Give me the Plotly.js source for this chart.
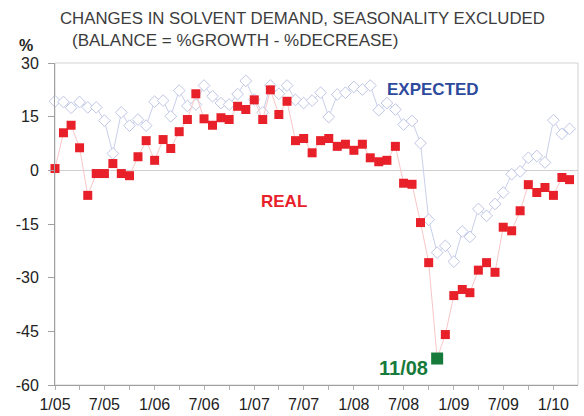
<!DOCTYPE html>
<html>
<head>
<meta charset="utf-8">
<script src="https://cdn.plot.ly/plotly-3.0.1.min.js"></script>
<style>html,body{margin:0;padding:0;background:#fff;}#chart{width:584px;height:416px;}</style>
</head>
<body>
<div id="chart"></div>
<script>
const months = [
 '2005-01','2005-02','2005-03','2005-04','2005-05','2005-06','2005-07','2005-08','2005-09','2005-10','2005-11','2005-12',
 '2006-01','2006-02','2006-03','2006-04','2006-05','2006-06','2006-07','2006-08','2006-09','2006-10','2006-11','2006-12',
 '2007-01','2007-02','2007-03','2007-04','2007-05','2007-06','2007-07','2007-08','2007-09','2007-10','2007-11','2007-12',
 '2008-01','2008-02','2008-03','2008-04','2008-05','2008-06','2008-07','2008-08','2008-09','2008-10','2008-11','2008-12',
 '2009-01','2009-02','2009-03','2009-04','2009-05','2009-06','2009-07','2009-08','2009-09','2009-10','2009-11','2009-12',
 '2010-01','2010-02','2010-03'
];
const real = [
 0.5, 10.5, 12.6, 6.3, -7.0, -0.9, -0.9, 1.9, -0.9, -1.5, 3.8, 8.3,
 2.8, 8.6, 6.1, 10.8, 14.2, 21.4, 14.4, 12.6, 14.7, 14.2, 17.9, 17.0,
 19.7, 14.2, 22.5, 15.6, 19.3, 8.3, 8.9, 4.9, 8.3, 8.9, 6.7, 7.3,
 5.6, 7.3, 3.5, 2.4, 2.8, 6.7, -3.6, -3.9, -14.6, -25.8, -52.6, -45.9,
 -35.0, -33.3, -34.2, -27.9, -25.8, -28.5, -15.9, -16.9, -11.3, -4.0, -6.2, -4.8,
 -7.0, -2.0, -2.6
];
const expected = [
 19.3, 19.1, 17.5, 19.1, 17.6, 17.6, 13.9, 4.7, 16.2, 12.5, 14.2, 12.5,
 19.2, 19.5, 15.1, 22.3, 18.0, 18.4, 23.7, 20.7, 18.8, 18.4, 21.3, 25.0,
 19.8, 16.2, 23.7, 21.4, 23.7, 19.7, 18.8, 19.5, 21.7, 14.9, 21.2, 21.7,
 23.3, 22.6, 23.7, 16.8, 18.8, 17.0, 12.8, 13.8, 7.6, -13.8, -23.0, -21.1,
 -25.5, -17.1, -18.6, -10.8, -12.7, -9.4, -6.2, -1.1, -0.3, 3.5, 4.0, 2.2,
 14.0, 10.2, 11.6
];
const tickVals = ['2005-01-01','2005-04-01','2005-07-01','2005-10-01','2006-01-01','2006-04-01','2006-07-01','2006-10-01',
 '2007-01-01','2007-04-01','2007-07-01','2007-10-01','2008-01-01','2008-04-01','2008-07-01','2008-10-01',
 '2009-01-01','2009-04-01','2009-07-01','2009-10-01','2010-01-01'];
const tickText = ['1/05','','7/05','','1/06','','7/06','','1/07','','7/07','','1/08','','7/08','','1/09','','7/09','','1/10'];
const yTicks = [30, 15, 0, -15, -30, -45, -60];
const highlightLabel = '11/08';

const minIdx = real.indexOf(Math.min(...real));

const traces = [
 {x: months, y: expected, type: 'scatter', mode: 'lines+markers', cliponaxis: false,
  line: {color: '#c9cfea', width: 1},
  marker: {symbol: 'diamond', size: 9, color: '#ffffff', line: {color: '#bfc6e6', width: 1}},
  hoverinfo: 'skip'},
 {x: months, y: real, type: 'scatter', mode: 'lines+markers', cliponaxis: false,
  line: {color: '#f9c6c6', width: 1},
  marker: {symbol: 'square', size: 9, color: '#e8202a', line: {width: 0}},
  hoverinfo: 'skip'},
 {x: [months[minIdx]], y: [real[minIdx]], type: 'scatter', mode: 'markers', cliponaxis: false,
  marker: {symbol: 'square', size: 12, color: '#167a3a', line: {width: 0}},
  hoverinfo: 'skip'}
];

const xRange = ['2005-01-01', '2010-04-01'];
const layout = {
 width: 584, height: 416,
 margin: {l: 55, r: 6, t: 63, b: 31},
 paper_bgcolor: '#ffffff', plot_bgcolor: '#ffffff',
 showlegend: false,
 font: {family: 'Liberation Sans, Arial, sans-serif', color: '#222'},
 xaxis: {type: 'date', range: xRange, tickmode: 'array', tickvals: tickVals, ticktext: tickText,
  ticks: 'outside', ticklen: 4, tickcolor: '#b0b0b0', tickwidth: 1,
  showline: true, linecolor: '#a0a0a0', linewidth: 1, showgrid: false, zeroline: false,
  tickfont: {size: 16, color: '#222'}, ticklabelstandoff: 1},
 xaxis2: {type: 'date', range: xRange, overlaying: 'x', tickmode: 'array', tickvals: tickVals,
  ticks: 'inside', ticklen: 4, tickcolor: '#b0b0b0', tickwidth: 1, showticklabels: false,
  showline: false, showgrid: false, zeroline: false, side: 'bottom', anchor: 'y'},
 yaxis: {range: [-60, 30], tickmode: 'array', tickvals: yTicks, ticktext: yTicks.map(String),
  ticks: 'outside', ticklen: 6, tickcolor: '#a0a0a0', showline: true, linecolor: '#a0a0a0', linewidth: 1,
  showgrid: false, zeroline: true, zerolinecolor: '#cfcfcf', zerolinewidth: 1,
  tickfont: {size: 16, color: '#222'}, ticklabelstandoff: 6},
 yaxis2: {range: [-60, 30], overlaying: 'y', anchor: 'x', side: 'left', tickmode: 'array', tickvals: yTicks,
  ticks: 'inside', ticklen: 6, tickcolor: '#a0a0a0', showticklabels: false, showline: false,
  showgrid: false, zeroline: false},
 shapes: [
  {type: 'rect', xref: 'paper', yref: 'paper', x0: 0, x1: 1, y0: 0, y1: 1,
   line: {color: '#d2d2d2', width: 1}, layer: 'below'}
 ],
 annotations: [
  {text: 'CHANGES IN SOLVENT DEMAND, SEASONALITY EXCLUDED', xref: 'paper', yref: 'paper',
   x: (58-55)/523, y: (385-19)/322, xanchor: 'left', yanchor: 'middle', showarrow: false,
   font: {family: 'Liberation Sans, Arial, sans-serif', size: 16.8, color: '#3c3c3c'}},
  {text: '(BALANCE = %GROWTH - %DECREASE)', xref: 'paper', yref: 'paper',
   x: (70-55)/523, y: (385-41)/322, xanchor: 'left', yanchor: 'middle', showarrow: false,
   font: {family: 'Liberation Sans, Arial, sans-serif', size: 17, color: '#3c3c3c'}},
  {text: '<b>%</b>', xref: 'paper', yref: 'paper',
   x: (26-55)/523, y: (385-46)/322, xanchor: 'center', yanchor: 'middle', showarrow: false,
   font: {family: 'Liberation Sans, Arial, sans-serif', size: 16, color: '#222'}},
  {text: '<b>EXPECTED</b>', x: '2008-10-15', y: 22.6, xanchor: 'center', yanchor: 'middle', showarrow: false,
   font: {family: 'Liberation Sans, Arial, sans-serif', size: 17, color: '#2e4a9c'}},
  {text: '<b>REAL</b>', x: '2007-04-20', y: -8.7, xanchor: 'center', yanchor: 'middle', showarrow: false,
   font: {family: 'Liberation Sans, Arial, sans-serif', size: 17, color: '#e8202a'}},
  {text: '<b>' + highlightLabel + '</b>', x: '2008-07-01', y: -55.3, xanchor: 'center', yanchor: 'middle', showarrow: false,
   font: {family: 'Liberation Sans, Arial, sans-serif', size: 20, color: '#167a3a'}}
 ]
};

Plotly.newPlot('chart', traces, layout, {displayModeBar: false, staticPlot: true});
</script>
</body>
</html>
